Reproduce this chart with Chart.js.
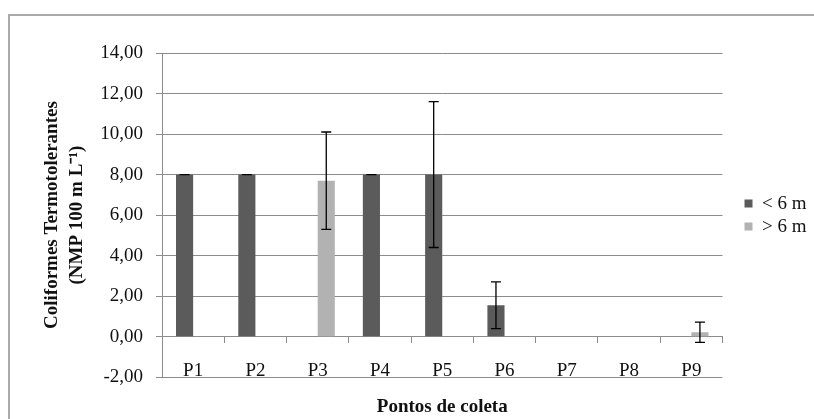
<!DOCTYPE html>
<html>
<head>
<meta charset="utf-8">
<script src="https://cdn.jsdelivr.net/npm/chart.js"></script>
<style>
    html, body { margin: 0; padding: 0; background: #fff; overflow: hidden; }
    #frame { position: absolute; left: 8px; top: 14px; width: 900px; height: 500px; border: 2px solid #a9a9a9; box-sizing: border-box; }
    #coliformes-chart { position: absolute; left: 0; top: 0; }
</style>
</head>
<body>
<div id="frame"></div>
<canvas id="coliformes-chart" width="814" height="419"></canvas>
<script>
const pontos = ['P1', 'P2', 'P3', 'P4', 'P5', 'P6', 'P7', 'P8', 'P9'];
const menor6m = [8.0, 8.0, null, 8.0, 8.0, 1.55, null, null, null];
const menor6mErro = [0, 0, null, 0, 3.6, 1.15, null, null, null];
const maior6m = [null, null, 7.7, null, null, null, null, null, 0.22];
const maior6mErro = [null, null, 2.4, null, null, null, null, null, 0.5];
const yTicks = { min: -2, max: 14, step: 2 };

const serif = '"Liberation Serif", "Times New Roman", serif';
const gridGray = '#8c8c8c';

// desenha as barras de erro a partir dos valores e das escalas
const errorBars = {
    id: 'errorBars',
    afterDatasetsDraw(chart) {
        const ctx = chart.ctx;
        const y = chart.scales.y;
        ctx.save();
        ctx.strokeStyle = '#000';
        ctx.lineWidth = 1.3;
        chart.data.datasets.forEach((ds, d) => {
            const meta = chart.getDatasetMeta(d);
            meta.data.forEach((bar, i) => {
                const v = ds.data[i];
                const e = ds.errors[i];
                if (v === null || e === null) return;
                const top = y.getPixelForValue(v + e);
                const bottom = y.getPixelForValue(v - e);
                const half = 5;
                ctx.beginPath();
                ctx.moveTo(bar.x, top);
                ctx.lineTo(bar.x, bottom);
                ctx.moveTo(bar.x - half, top);
                ctx.lineTo(bar.x + half, top);
                ctx.moveTo(bar.x - half, bottom);
                ctx.lineTo(bar.x + half, bottom);
                ctx.stroke();
            });
        });
        ctx.restore();
    }
};

// afasta a legenda da área do gráfico
const legendGap = {
    id: 'legendGap',
    afterLayout(chart) {
        chart.legend.left += 18;
        chart.legend.right += 18;
    }
};

function createChart() {
    const ctx = document.getElementById('coliformes-chart').getContext('2d');

    new Chart(ctx, {
        type: 'bar',
        data: {
            labels: pontos,
            datasets: [{
                label: '< 6 m',
                data: menor6m,
                errors: menor6mErro,
                backgroundColor: '#5b5b5b',
                borderWidth: 0
            }, {
                label: '> 6 m',
                data: maior6m,
                errors: maior6mErro,
                backgroundColor: '#b2b2b2',
                borderWidth: 0
            }]
        },
        options: {
            responsive: false,
            animation: false,
            categoryPercentage: 0.55,
            barPercentage: 1.0,
            layout: {
                padding: { left: 30, top: 53, right: 15.5, bottom: 0 }
            },
            scales: {
                x: {
                    position: { y: 0 },
                    offset: true,
                    grid: { drawOnChartArea: false, drawTicks: true, tickLength: 6, color: gridGray, offset: true },
                    border: { display: true, color: gridGray, width: 1 },
                    ticks: { color: '#111', font: { family: serif, size: 19 }, padding: 17 }
                },
                y: {
                    min: yTicks.min,
                    max: yTicks.max,
                    ticks: {
                        stepSize: yTicks.step,
                        color: '#111',
                        padding: 13,
                        font: { family: serif, size: 19 },
                        callback: value => value.toFixed(2).replace('.', ',')
                    },
                    grid: { color: gridGray, tickLength: 6 },
                    border: { display: true, color: gridGray },
                    title: {
                        display: true,
                        text: ['Coliformes Termotolerantes', '(NMP 100 m L⁻¹)'],
                        color: '#111',
                        font: { family: serif, size: 19, weight: 'bold', lineHeight: 1.3 },
                        padding: { top: 10, bottom: 0 }
                    },
                    afterFit: scale => { scale.width = 132; }
                }
            },
            plugins: {
                legend: {
                    position: 'right',
                    fullSize: false,
                    labels: {
                        boxWidth: 8,
                        boxHeight: 8,
                        padding: 4,
                        color: '#111',
                        font: { family: serif, size: 19 }
                    }
                },
                title: {
                    display: true,
                    position: 'bottom',
                    fullSize: false,
                    text: 'Pontos de coleta',
                    color: '#111',
                    font: { family: serif, size: 19, weight: 'bold', lineHeight: 1.2 },
                    padding: { top: 18, bottom: 1 }
                },
                tooltip: { enabled: false }
            }
        },
        plugins: [errorBars, legendGap]
    });
}

document.addEventListener('DOMContentLoaded', () => {
    createChart();
});
</script>
</body>
</html>
